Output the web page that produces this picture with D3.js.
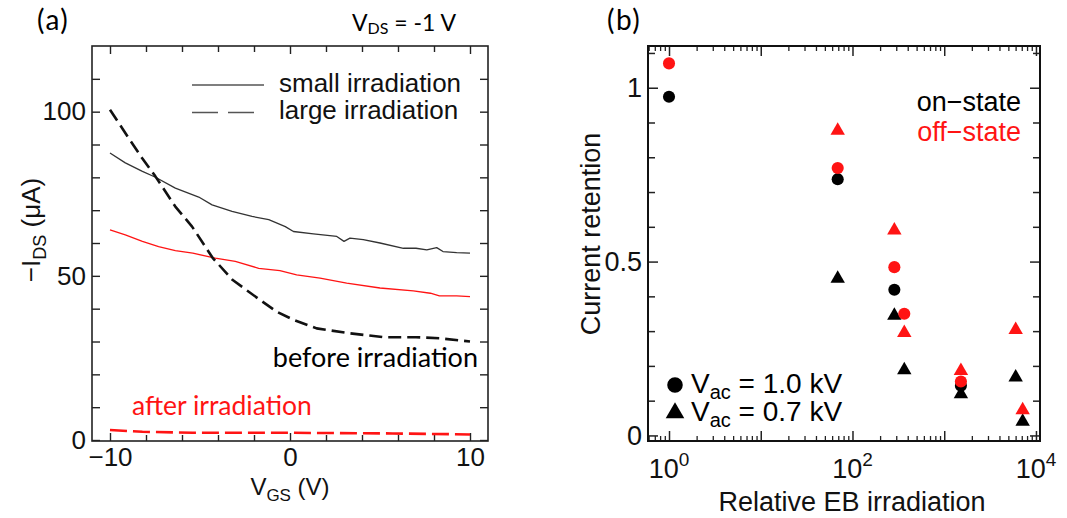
<!DOCTYPE html>
<html>
<head>
<meta charset="utf-8">
<script src="https://cdn.jsdelivr.net/npm/d3@7"></script>
<style>
  body { margin: 0; background: #fff; }
  svg { display: block; }
</style>
</head>
<body>
<svg id="fig" width="1067" height="518"></svg>
<script>
// ---------- (a) transfer curves: gate voltage (V) vs -I_DS (uA) ----------
const smallBeforeV = [-10, -9.15, -8.2, -7.5, -6.37, -5.07, -4.33, -3.22, -2.11, -1.18, -0.26, 0.19, 1.3, 2.6, 3.0, 3.33, 4.07, 5.0, 6.3, 7.0, 7.6, 8.15, 8.5, 9.26, 10];
const smallBeforeI = [87.4, 84.4, 81.8, 80.1, 76.7, 74.0, 71.6, 69.6, 68.1, 67.1, 65.0, 63.5, 62.8, 62.0, 60.5, 61.5, 61.0, 60.0, 58.4, 58.4, 57.9, 58.6, 57.4, 57.1, 56.9];

const smallAfterV = [-10, -9.15, -8.2, -7.3, -6.37, -5.4, -4.15, -3.04, -1.74, -0.56, 0.37, 1.67, 3.15, 5.0, 6.85, 7.8, 8.3, 9.26, 10];
const smallAfterI = [64.0, 62.5, 60.5, 58.9, 57.7, 56.9, 55.4, 54.4, 52.3, 51.6, 50.3, 49.3, 47.8, 46.3, 45.4, 44.7, 43.9, 43.9, 43.7];

const largeBeforeV = [-10, -9.15, -8.22, -7.48, -6.37, -5.44, -4.3, -3.2, -1.8, -0.74, 0.19, 1.48, 3.33, 5.2, 7.0, 8.3, 10];
const largeBeforeI = [100.6, 93.5, 85.9, 80.3, 71.1, 65.0, 55.5, 48.8, 43.2, 39.1, 36.6, 34.0, 32.5, 31.3, 31.3, 31.0, 30.0];

const largeAfterV = [-10, -8.2, -5.4, 0, 5.7, 10];
const largeAfterI = [3.05, 2.5, 2.2, 2.2, 2.0, 1.7];

const vgsMajorTicks = [-10, 0, 10];
const vgsMinorTicks = [-8, -6, -4, -2, 2, 4, 6, 8];
const idsMajorTicks = [0, 50, 100];
const idsMinorTicks = [10, 20, 30, 40, 60, 70, 80, 90, 110];

// ---------- (b) current retention vs relative EB irradiation ----------
const dose1kvOn   = [1, 69, 286, 1520];
const ret1kvOn    = [0.974, 0.737, 0.419, 0.143];
const dose1kvOff  = [1, 69, 286, 367, 1520];
const ret1kvOff   = [1.070, 0.769, 0.484, 0.350, 0.155];
const dose07kvOn  = [69, 286, 367, 1520, 6010, 7160];
const ret07kvOn   = [0.451, 0.345, 0.188, 0.119, 0.167, 0.040];
const dose07kvOff = [69, 286, 367, 1520, 6010, 7160];
const ret07kvOff  = [0.877, 0.590, 0.295, 0.186, 0.304, 0.073];

const retMajorTicks = [0, 0.5, 1];
const retMinorTicks = [0.1, 0.2, 0.3, 0.4, 0.6, 0.7, 0.8, 0.9, 1.1];
const doseMajorTicks = [1, 10, 100, 1000, 10000];
const doseLabelled = [1, 100, 10000];

// ---------- shared styling ----------
const ARIAL = "'Liberation Sans', Arial, sans-serif";
const CALI = "Lato, 'Open Sans', sans-serif";
const RED = "#ff1414";

const svg = d3.select("#fig");
const zip = (xs, ys) => xs.map((x, i) => [x, ys[i]]);

function styleAxis(g, width) {
  g.select(".domain").remove();
  g.selectAll(".tick line").attr("stroke", "#222").attr("stroke-width", width);
  g.selectAll(".tick text").attr("fill", "#111").attr("font-family", ARIAL);
}

// ================= panel (a) =================
const A = { left: 92, right: 488, top: 46, bottom: 441 };
const xA = d3.scaleLinear().domain([-11, 11]).range([A.left, A.right]);
const yA = d3.scaleLinear().domain([-0.3, 120]).range([A.bottom, A.top]);
const pa = svg.append("g");

// ticks on all four sides, pointing inward
pa.append("g").attr("transform", `translate(0,${A.bottom})`)
  .call(d3.axisBottom(xA).tickValues(vgsMajorTicks).tickSize(-8).tickPadding(7)
        .tickFormat(d => d < 0 ? "\u2212" + Math.abs(d) : d))
  .call(g => { styleAxis(g, 1.4); g.selectAll("text").attr("font-size", 26); });
pa.append("g").attr("transform", `translate(0,${A.bottom})`)
  .call(d3.axisBottom(xA).tickValues(vgsMinorTicks).tickSize(-6).tickFormat(""))
  .call(g => styleAxis(g, 1.4));
pa.append("g").attr("transform", `translate(0,${A.top})`)
  .call(d3.axisTop(xA).tickValues(vgsMajorTicks).tickSize(-8).tickFormat(""))
  .call(g => styleAxis(g, 1.4));
pa.append("g").attr("transform", `translate(0,${A.top})`)
  .call(d3.axisTop(xA).tickValues(vgsMinorTicks).tickSize(-6).tickFormat(""))
  .call(g => styleAxis(g, 1.4));
pa.append("g").attr("transform", `translate(${A.left},0)`)
  .call(d3.axisLeft(yA).tickValues(idsMajorTicks).tickSize(-8).tickPadding(6))
  .call(g => { styleAxis(g, 1.4); g.selectAll("text").attr("font-size", 26); });
pa.append("g").attr("transform", `translate(${A.left},0)`)
  .call(d3.axisLeft(yA).tickValues(idsMinorTicks).tickSize(-8).tickFormat(""))
  .call(g => styleAxis(g, 1.4));
pa.append("g").attr("transform", `translate(${A.right},0)`)
  .call(d3.axisRight(yA).tickValues(idsMajorTicks.concat(idsMinorTicks)).tickSize(-8).tickFormat(""))
  .call(g => styleAxis(g, 1.4));

pa.append("rect")
  .attr("x", A.left).attr("y", A.top)
  .attr("width", A.right - A.left).attr("height", A.bottom - A.top)
  .attr("fill", "none").attr("stroke", "#222").attr("stroke-width", 1.6);

const lineA = d3.line().x(d => xA(d[0])).y(d => yA(d[1]));
const curves = [
  { v: smallBeforeV, i: smallBeforeI, color: "#333", w: 1.3, dash: null },
  { v: smallAfterV,  i: smallAfterI,  color: RED,    w: 1.3, dash: null },
  { v: largeBeforeV, i: largeBeforeI, color: "#111", w: 2.6, dash: "13,6" },
  { v: largeAfterV,  i: largeAfterI,  color: RED,    w: 2.6, dash: "17,6" }
];
curves.forEach(c => {
  pa.append("path")
    .datum(zip(c.v, c.i))
    .attr("d", lineA)
    .attr("fill", "none")
    .attr("stroke", c.color)
    .attr("stroke-width", c.w)
    .attr("stroke-linejoin", "round")
    .attr("stroke-dasharray", c.dash);
});

// line-style legend
pa.append("line").attr("x1", 192).attr("x2", 264).attr("y1", 85).attr("y2", 85)
  .attr("stroke", "#555").attr("stroke-width", 1.5);
pa.append("line").attr("x1", 192).attr("x2", 254).attr("y1", 112.5).attr("y2", 112.5)
  .attr("stroke", "#555").attr("stroke-width", 1.5).attr("stroke-dasharray", "26,10");
pa.append("text").attr("x", 279).attr("y", 92).attr("font-family", ARIAL)
  .attr("font-size", 26).attr("fill", "#111").text("small irradiation");
pa.append("text").attr("x", 279).attr("y", 119).attr("font-family", ARIAL)
  .attr("font-size", 26).attr("fill", "#111").text("large irradiation");

// annotations
pa.append("text").attr("x", 478).attr("y", 367).attr("text-anchor", "end")
  .attr("font-family", CALI).attr("font-size", 27).attr("fill", "#000").text("before irradiation");
pa.append("text").attr("x", 132).attr("y", 415)
  .attr("font-family", CALI).attr("font-size", 26.5).attr("fill", RED).text("after irradiation");

const vds = svg.append("text").attr("x", 352).attr("y", 31)
  .attr("font-family", CALI).attr("font-size", 23).attr("fill", "#000");
vds.append("tspan").text("V");
vds.append("tspan").attr("font-size", 16).attr("dy", 3).text("DS");
vds.append("tspan").attr("dy", -3).text(" = -1 V");

svg.append("text").attr("x", 37).attr("y", 30).attr("font-family", CALI)
  .attr("font-size", 28).attr("letter-spacing", 1.5).attr("fill", "#000").text("(a)");

// axis titles
const xtA = svg.append("text").attr("x", (A.left + A.right) / 2).attr("y", 495)
  .attr("text-anchor", "middle").attr("font-family", ARIAL).attr("font-size", 24).attr("fill", "#111");
xtA.append("tspan").text("V");
xtA.append("tspan").attr("font-size", 17).attr("dy", 6).text("GS");
xtA.append("tspan").attr("dy", -6).text(" (V)");

const ytA = svg.append("text")
  .attr("transform", `translate(40,230) rotate(-90)`)
  .attr("text-anchor", "middle").attr("font-family", ARIAL).attr("font-size", 26).attr("fill", "#111");
ytA.append("tspan").text("\u2212I");
ytA.append("tspan").attr("font-size", 18).attr("dy", 6).text("DS");
ytA.append("tspan").attr("dy", -6).text(" (\u03bcA)");

// ================= panel (b) =================
const B = { left: 648, right: 1040, top: 46, bottom: 441 };
const xB = d3.scaleLog().domain([Math.pow(10, -0.229), Math.pow(10, 4.044)]).range([B.left, B.right]);
const yB = d3.scaleLinear().domain([-0.016, 1.12]).range([B.bottom, B.top]);
const pb = svg.append("g");

const doseMinorTicks = [];
for (let e = -1; e <= 3; e++) {
  for (let m = 2; m <= 9; m++) {
    const v = m * Math.pow(10, e);
    if (v >= xB.domain()[0] && v <= xB.domain()[1]) doseMinorTicks.push(v);
  }
}

pb.append("g").attr("transform", `translate(0,${B.bottom})`)
  .call(d3.axisBottom(xB).tickValues(doseMajorTicks).tickSize(-10).tickFormat(""))
  .call(g => styleAxis(g, 1.5));
pb.append("g").attr("transform", `translate(0,${B.bottom})`)
  .call(d3.axisBottom(xB).tickValues(doseMinorTicks).tickSize(-5).tickFormat(""))
  .call(g => styleAxis(g, 1.3));
pb.append("g").attr("transform", `translate(0,${B.top})`)
  .call(d3.axisTop(xB).tickValues(doseMajorTicks).tickSize(-10).tickFormat(""))
  .call(g => styleAxis(g, 1.5));
pb.append("g").attr("transform", `translate(0,${B.top})`)
  .call(d3.axisTop(xB).tickValues(doseMinorTicks).tickSize(-5).tickFormat(""))
  .call(g => styleAxis(g, 1.3));

// decade labels with superscript exponents
const decadeLabels = pb.append("g").selectAll("text").data(doseLabelled).join("text")
  .attr("x", d => xB(d)).attr("y", 478)
  .attr("text-anchor", "middle").attr("font-family", ARIAL).attr("font-size", 27).attr("fill", "#111");
decadeLabels.append("tspan").text("10");
decadeLabels.append("tspan").attr("dy", -12).attr("font-size", 19).text(d => Math.round(Math.log10(d)));

pb.append("g").attr("transform", `translate(${B.left},0)`)
  .call(d3.axisLeft(yB).tickValues(retMajorTicks).tickSize(-10).tickPadding(6).tickFormat(d3.format("~g")))
  .call(g => { styleAxis(g, 1.5); g.selectAll("text").attr("font-size", 27); });
pb.append("g").attr("transform", `translate(${B.left},0)`)
  .call(d3.axisLeft(yB).tickValues(retMinorTicks).tickSize(-7).tickFormat(""))
  .call(g => styleAxis(g, 1.5));
pb.append("g").attr("transform", `translate(${B.right},0)`)
  .call(d3.axisRight(yB).tickValues(retMajorTicks).tickSize(-10).tickFormat(""))
  .call(g => styleAxis(g, 1.5));
pb.append("g").attr("transform", `translate(${B.right},0)`)
  .call(d3.axisRight(yB).tickValues(retMinorTicks).tickSize(-7).tickFormat(""))
  .call(g => styleAxis(g, 1.5));

pb.append("rect")
  .attr("x", B.left).attr("y", B.top)
  .attr("width", B.right - B.left).attr("height", B.bottom - B.top)
  .attr("fill", "none").attr("stroke", "#111").attr("stroke-width", 2);

const circleSym = d3.symbol(d3.symbolCircle, 115);
const triSym = d3.symbol(d3.symbolTriangle, 90);
const markerSets = [
  { x: dose1kvOn,   y: ret1kvOn,   sym: circleSym, color: "#000" },
  { x: dose07kvOn,  y: ret07kvOn,  sym: triSym,    color: "#000" },
  { x: dose1kvOff,  y: ret1kvOff,  sym: circleSym, color: RED },
  { x: dose07kvOff, y: ret07kvOff, sym: triSym,    color: RED }
];
markerSets.forEach(s => {
  pb.append("g").selectAll("path").data(zip(s.x, s.y)).join("path")
    .attr("transform", d => `translate(${xB(d[0])},${yB(d[1])})`)
    .attr("d", s.sym)
    .attr("fill", s.color);
});

// state legend
pb.append("text").attr("x", 1021).attr("y", 111).attr("text-anchor", "end")
  .attr("font-family", ARIAL).attr("font-size", 27).attr("fill", "#000").text("on\u2212state");
pb.append("text").attr("x", 1021).attr("y", 141).attr("text-anchor", "end")
  .attr("font-family", ARIAL).attr("font-size", 27).attr("fill", RED).text("off\u2212state");

// marker legend
const legRows = [
  { sym: d3.symbol(d3.symbolCircle, 190), y: 393, label: " = 1.0 kV" },
  { sym: d3.symbol(d3.symbolTriangle, 150), y: 421, label: " = 0.7 kV" }
];
legRows.forEach(r => {
  pb.append("path").attr("transform", `translate(675,${r.y - 8})`).attr("d", r.sym).attr("fill", "#000");
  const t = pb.append("text").attr("x", 691).attr("y", r.y)
    .attr("font-family", ARIAL).attr("font-size", 28).attr("fill", "#000");
  t.append("tspan").text("V");
  t.append("tspan").attr("font-size", 20).attr("dy", 6).text("ac");
  t.append("tspan").attr("dy", -6).text(r.label);
});

svg.append("text").attr("x", 607).attr("y", 30).attr("font-family", CALI)
  .attr("font-size", 28).attr("letter-spacing", 1.5).attr("fill", "#000").text("(b)");

// axis titles
svg.append("text").attr("x", (B.left + B.right) / 2 + 8).attr("y", 511)
  .attr("text-anchor", "middle").attr("font-family", ARIAL).attr("font-size", 27)
  .attr("fill", "#111").text("Relative EB irradiation");
svg.append("text").attr("transform", `translate(600,234) rotate(-90)`)
  .attr("text-anchor", "middle").attr("font-family", ARIAL).attr("font-size", 27)
  .attr("fill", "#111").text("Current retention");
</script>
</body>
</html>
